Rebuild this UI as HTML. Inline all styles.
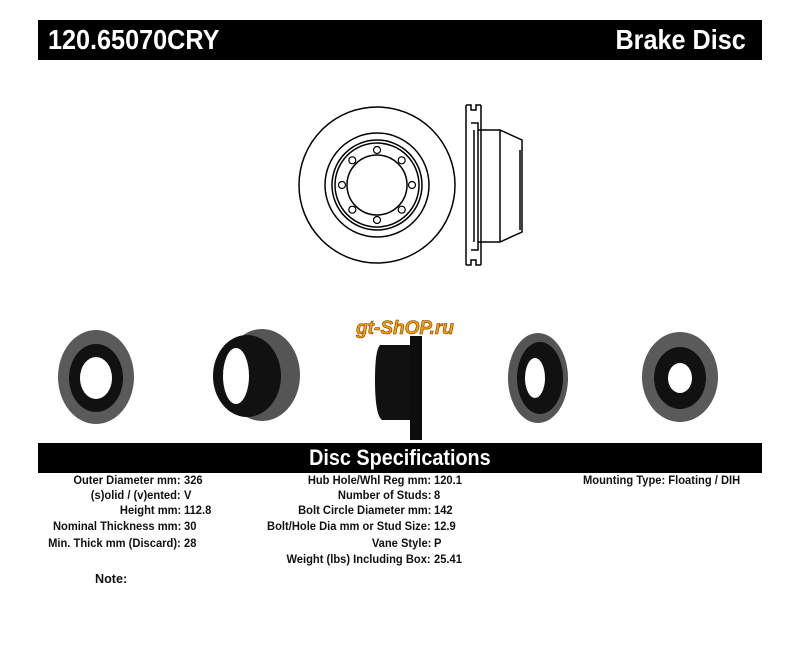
<!DOCTYPE html>
<html><head><style>
body{margin:0;width:800px;height:655px;background:#fff;position:relative;font-family:"Liberation Sans",Arial,sans-serif;overflow:hidden}
.bar{position:absolute;left:38px;width:724px;background:#000;color:#fff;font-weight:bold}
.t{position:absolute;font-size:11.5px;font-weight:bold;color:#111;white-space:nowrap;transform:scaleX(.97)}
.r{transform-origin:right center;text-align:right}
.l{transform-origin:left center}
</style></head><body>
<div class="bar" style="top:20px;height:40px">
<span style="position:absolute;left:10px;top:4px;font-size:28px;transform:scaleX(.9);transform-origin:left">120.65070CRY</span>
<span style="position:absolute;right:16px;top:4px;font-size:28px;transform:scaleX(.9);transform-origin:right">Brake Disc</span>
</div>
<svg style="position:absolute;left:0;top:0" width="800" height="440">
<g fill="none" stroke="#000" stroke-width="1.5">
<circle cx="377" cy="185" r="78"/>
<circle cx="377" cy="185" r="52"/>
<circle cx="377" cy="185" r="45"/>
<circle cx="377" cy="185" r="42"/>
<circle cx="377" cy="185" r="30"/>
<g stroke-width="1.2">
<circle cx="377" cy="150" r="3.5"/><circle cx="401.7" cy="160.3" r="3.5"/><circle cx="412" cy="185" r="3.5"/><circle cx="401.7" cy="209.7" r="3.5"/>
<circle cx="377" cy="220" r="3.5"/><circle cx="352.3" cy="209.7" r="3.5"/><circle cx="342" cy="185" r="3.5"/><circle cx="352.3" cy="160.3" r="3.5"/>
</g>
<path d="M466 105 V265 M481 105 V265 M466 105 H471 V110 H476 V105 H481"/>
<path d="M466 265 H471 V260 H476 V265 H481"/>
<path d="M471 123 H478 V130 H500 L522 140 V232 L500 242 H478 V250 H471"/>
<path d="M474 130 V242 M478 130 V242 M500 130 V242 M520 150 V230"/>
</g>
<!-- photos -->
<ellipse cx="96" cy="377" rx="38" ry="47" fill="#5a5a5a"/>
<ellipse cx="96" cy="378" rx="27" ry="34" fill="#111"/>
<ellipse cx="96" cy="378" rx="16" ry="21" fill="#fff"/>
<ellipse cx="262" cy="375" rx="38" ry="46" fill="#555"/>
<ellipse cx="247" cy="376" rx="34" ry="41" fill="#111"/>
<ellipse cx="236" cy="376" rx="13" ry="28" fill="#fff"/>
<path d="M380 345 Q375 350 375 380 Q375 415 382 420 H410 V345Z" fill="#111"/>
<rect x="410" y="336" width="12" height="104" fill="#0d0d0d"/>
<ellipse cx="538" cy="378" rx="30" ry="45" fill="#555"/>
<ellipse cx="540" cy="378" rx="23" ry="36" fill="#111"/>
<ellipse cx="535" cy="378" rx="10" ry="20" fill="#fff"/>
<ellipse cx="680" cy="377" rx="38" ry="45" fill="#5a5a5a"/>
<ellipse cx="680" cy="378" rx="26" ry="31" fill="#111"/>
<ellipse cx="680" cy="378" rx="12" ry="15" fill="#fff"/>
<text x="405" y="334" font-family="Liberation Sans" font-weight="bold" font-style="italic" font-size="19" fill="#f5a000" stroke="#7a3a00" stroke-width=".6" text-anchor="middle">gt-ShOP.ru</text>
</svg>
<div class="bar" style="top:443px;height:30px;text-align:center;font-size:22px;line-height:30px"><span style="display:inline-block;transform:scaleX(.9)">Disc Specifications</span></div>
<div class="t r" style="right:619px;top:475px">Outer Diameter mm:</div><div class="t l" style="left:184px;top:475px">326</div>
<div class="t r" style="right:619px;top:490px">(s)olid / (v)ented:</div><div class="t l" style="left:184px;top:490px">V</div>
<div class="t r" style="right:619px;top:505px">Height mm:</div><div class="t l" style="left:184px;top:505px">112.8</div>
<div class="t r" style="right:619px;top:521px">Nominal Thickness mm:</div><div class="t l" style="left:184px;top:521px">30</div>
<div class="t r" style="right:619px;top:538px">Min. Thick mm (Discard):</div><div class="t l" style="left:184px;top:538px">28</div>
<div class="t r" style="right:369px;top:475px">Hub Hole/Whl Reg mm:</div><div class="t l" style="left:434px;top:475px">120.1</div>
<div class="t r" style="right:369px;top:490px">Number of Studs:</div><div class="t l" style="left:434px;top:490px">8</div>
<div class="t r" style="right:369px;top:505px">Bolt Circle Diameter mm:</div><div class="t l" style="left:434px;top:505px">142</div>
<div class="t r" style="right:369px;top:521px">Bolt/Hole Dia mm or Stud Size:</div><div class="t l" style="left:434px;top:521px">12.9</div>
<div class="t r" style="right:369px;top:538px">Vane Style:</div><div class="t l" style="left:434px;top:538px">P</div>
<div class="t r" style="right:369px;top:554px">Weight (lbs) Including Box:</div><div class="t l" style="left:434px;top:554px">25.41</div>
<div class="t l" style="left:583px;top:475px">Mounting Type: Floating / DIH</div>
<div class="t l" style="left:95px;top:571px;font-size:13px">Note:</div>
</body></html>
